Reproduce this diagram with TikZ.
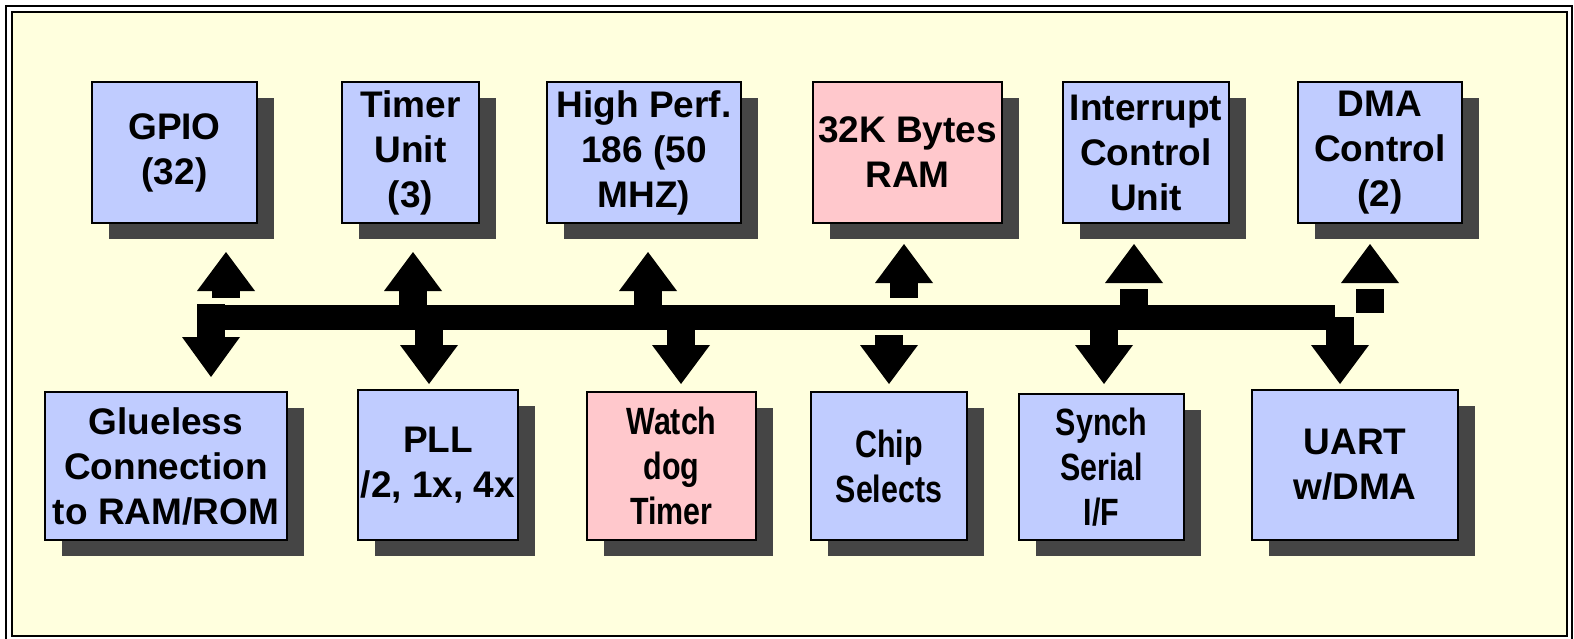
\documentclass[tikz,border=0pt]{standalone}
\usepackage{fontspec}
\setmainfont{Liberation Sans}
\newfontfamily\narrowsf{Liberation Sans}[FakeStretch=0.8]
\usetikzlibrary{shadows}

\definecolor{unitblue}{RGB}{192,204,255}
\definecolor{unitpink}{RGB}{255,200,204}
\definecolor{shadowgray}{RGB}{69,69,69}
\definecolor{paper}{RGB}{255,255,222}

\tikzset{
  unit/.style={draw, line width=2.5pt, fill=unitblue, align=center,
    inner sep=0pt, font=\fontsize{37}{45}\selectfont\bfseries,
    drop shadow={shadow xshift=17pt, shadow yshift=-16pt,
      fill=shadowgray, opacity=1}},
  memunit/.style={unit, fill=unitpink},
  narrow/.style={font=\fontsize{38}{45}\selectfont\narrowsf\bfseries},
  toprow/.style={minimum height=141pt},
  botrow/.style={minimum height=148pt}
}

% block arrows of the bus: x, tip, base, stem top, stem bottom
\newcommand\upblk[5]{%
  \fill (#1-29,#3) -- (#1,#2) -- (#1+29,#3) -- cycle;
  \fill (#1-14,#4) rectangle (#1+14,#5);}
\newcommand\dnblk[5]{%
  \fill (#1-14,#2) rectangle (#1+14,#3);
  \fill (#1-29,#4) -- (#1,#5) -- (#1+29,#4) -- cycle;}

\begin{document}
\begin{tikzpicture}[x=1pt, y=-1pt]
  \useasboundingbox (0,0) rectangle (1574,639);
  \fill[white] (0,0) rectangle (1574,639);
  % frame
  \draw[line width=2pt] (6,6) rectangle (1572,642);
  \draw[line width=2pt, fill=paper] (12,12) rectangle (1567,636);

  % bus
  \fill (197,305) rectangle (1335,330);
  \fill (1335,317) rectangle (1354,330);
  \foreach \x/\t/\b/\s/\e in {226/252/291/291/298, 413/252/291/291/306,
      648/252/291/291/306, 904/244/283/283/298, 1134/244/283/289/306,
      1370/244/283/289/313}
    \upblk{\x}{\t}{\b}{\s}{\e};
  \foreach \x/\s/\e/\b/\t in {211/304/338/337/377, 429/329/346/345/384,
      681/329/346/345/384, 889/335/346/345/384, 1104/329/346/345/384,
      1340/317/346/345/384}
    \dnblk{\x}{\s}{\e}{\b}{\t};

  % top row
  \node[unit, toprow, minimum width=165pt] (gpio) at (174.5,152.5) {GPIO\\(32)};
  \node[unit, toprow, minimum width=137pt] (timer) at (410.5,152.5) {Timer\\Unit\\(3)};
  \node[unit, toprow, minimum width=194pt] (cpu) at (644,152.5) {High Perf.\\186 (50\\MHZ)};
  \node[memunit, toprow, minimum width=189pt] (ram) at (907.5,152.5) {32K Bytes\\RAM};
  \node[unit, toprow, minimum width=166pt] (icu) at (1146,152.5) {Interrupt\\Control\\Unit};
  \node[unit, toprow, minimum width=164pt] (dma) at (1380,152.5) {DMA\\Control\\(2)};

  % bottom row
  \node[unit, botrow, minimum width=242pt] (glue) at (166,466) {Glueless\\Connection\\to RAM/ROM};
  \node[unit, botrow, minimum width=160pt, minimum height=150pt] (pll) at (438,465) {PLL\\/2, 1x, 4x};
  \node[memunit, narrow, botrow, minimum width=169pt] (wdog) at (671.5,466) {Watch\\dog\\Timer};
  \node[unit, narrow, botrow, minimum width=156pt] (cs) at (889,466) {Chip\\Selects};
  \node[unit, narrow, minimum height=146pt, minimum width=165pt] (ssio) at (1101.5,467) {Synch\\Serial\\I/F};
  \node[unit, minimum height=150pt, minimum width=206pt] (uart) at (1355,465) {UART\\w/DMA};
\end{tikzpicture}
\end{document}
